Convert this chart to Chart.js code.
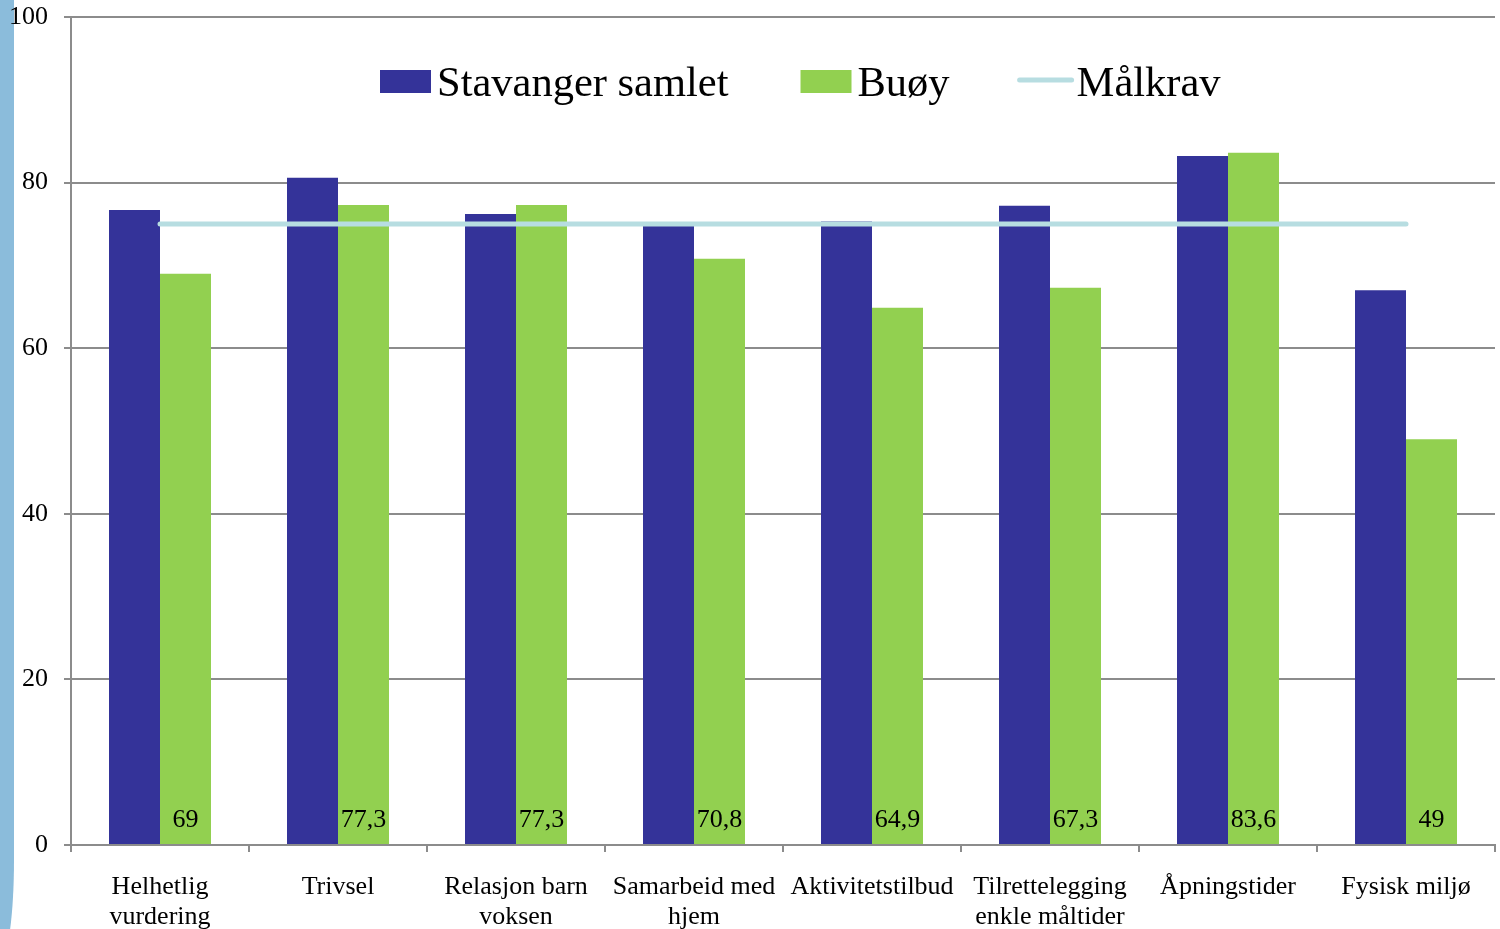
<!DOCTYPE html>
<html><head><meta charset="utf-8">
<script src="https://cdn.jsdelivr.net/npm/chart.js@4/dist/chart.umd.min.js"></script>
<style>
html,body{margin:0;padding:0;background:#fff;}
#wrap{position:relative;width:1500px;height:929px;overflow:hidden;background:#fff;}
#strip{position:absolute;left:0;top:-10px;width:14px;height:970px;background:#8bbcdb;border-bottom-right-radius:14px 100px;}
#c{position:absolute;left:0;top:0;}
</style></head><body>
<div id="wrap"><div id="strip"></div><canvas id="c" width="1500" height="929"></canvas></div>
<script>
const categories = [["Helhetlig","vurdering"],"Trivsel",["Relasjon barn","voksen"],["Samarbeid med","hjem"],"Aktivitetstilbud",["Tilrettelegging","enkle måltider"],"Åpningstider","Fysisk miljø"];
const stavangerSamlet = [76.7, 80.6, 76.2, 74.8, 75.3, 77.2, 83.2, 67.0];
const buoy = [69, 77.3, 77.3, 70.8, 64.9, 67.3, 83.6, 49];
const malkrav = [75, 75, 75, 75, 75, 75, 75, 75];
const seriesNames = ["Stavanger samlet", "Buøy", "Målkrav"];
const yMin = 0, yMax = 100, yStep = 20;

const BLUE = '#343399', GREEN = '#92d050', LINE = '#b7dde1', GRAY = '#8c8c8c';
const FONT = '"Liberation Serif", "Times New Roman", serif';
const fmt = v => String(v).replace('.', ',');

const valueLabels = {
  id: 'valueLabels',
  afterDatasetsDraw(chart) {
    const ctx = chart.ctx;
    const meta = chart.getDatasetMeta(2);
    const y0 = chart.scales.y.getPixelForValue(0);
    ctx.save();
    ctx.font = '26px ' + FONT;
    ctx.fillStyle = '#000';
    ctx.textAlign = 'center';
    ctx.textBaseline = 'middle';
    meta.data.forEach((el, i) => ctx.fillText(fmt(chart.data.datasets[2].data[i]), el.x, y0 - 25));
    ctx.restore();
  }
};

const customLegend = {
  id: 'customLegend',
  afterDraw(chart) {
    const ctx = chart.ctx;
    ctx.save();
    ctx.font = '42.5px ' + FONT;
    ctx.textBaseline = 'middle';
    ctx.fillStyle = '#000';
    const items = [
      {label: chart.data.datasets[1].label, color: chart.data.datasets[1].backgroundColor, kind: 'box'},
      {label: chart.data.datasets[2].label, color: chart.data.datasets[2].backgroundColor, kind: 'box'},
      {label: chart.data.datasets[0].label, color: chart.data.datasets[0].borderColor, kind: 'line'}
    ];
    let x = 380;
    const yc = 83;
    items.forEach(it => {
      if (it.kind === 'box') {
        ctx.fillStyle = it.color;
        ctx.fillRect(x, yc - 13, 51, 23);
        x += 57;
      } else {
        x -= 4;
        ctx.strokeStyle = it.color;
        ctx.lineWidth = 5;
        ctx.lineCap = 'round';
        ctx.beginPath();
        ctx.moveTo(x + 2, yc - 3);
        ctx.lineTo(x + 54, yc - 3);
        ctx.stroke();
        x += 59;
      }
      ctx.fillStyle = '#000';
      ctx.fillText(it.label, x, yc + 2);
      x += ctx.measureText(it.label).width + 72;
    });
    ctx.restore();
  }
};

new Chart(document.getElementById('c'), {
  data: {
    labels: categories,
    datasets: [
      {type: 'line', label: seriesNames[2], data: malkrav, borderColor: LINE, backgroundColor: LINE, borderWidth: 5, borderCapStyle: 'round', pointRadius: 0, fill: false, order: 0},
      {type: 'bar', label: seriesNames[0], data: stavangerSamlet, backgroundColor: BLUE, order: 1, categoryPercentage: 0.573, barPercentage: 1},
      {type: 'bar', label: seriesNames[1], data: buoy, backgroundColor: GREEN, order: 1, categoryPercentage: 0.573, barPercentage: 1}
    ]
  },
  options: {
    responsive: false,
    animation: false,
    layout: {padding: {top: 17, right: 5, bottom: 0, left: 0}},
    plugins: {legend: {display: false}, tooltip: {enabled: false}, title: {display: false}},
    scales: {
      x: {
        grid: {display: true, drawOnChartArea: false, drawTicks: true, tickLength: 7, color: GRAY, lineWidth: 2, offset: true},
        border: {display: true, color: GRAY, width: 2},
        ticks: {font: {family: FONT, size: 26, lineHeight: 1.15}, color: '#000', padding: 20, maxRotation: 0, autoSkip: false},
        afterFit(s) { s.height = 84; s.paddingLeft = 0; s.paddingRight = 0; }
      },
      y: {
        min: yMin, max: yMax,
        grid: {color: GRAY, lineWidth: 2, tickLength: 7, drawTicks: true},
        border: {display: true, color: GRAY, width: 2},
        ticks: {stepSize: yStep, font: {family: FONT, size: 26}, color: '#000', padding: 16},
        afterFit(s) { s.width = 71; s.paddingTop = 0; s.paddingBottom = 0; }
      }
    }
  },
  plugins: [valueLabels, customLegend]
});
</script>
</body></html>
